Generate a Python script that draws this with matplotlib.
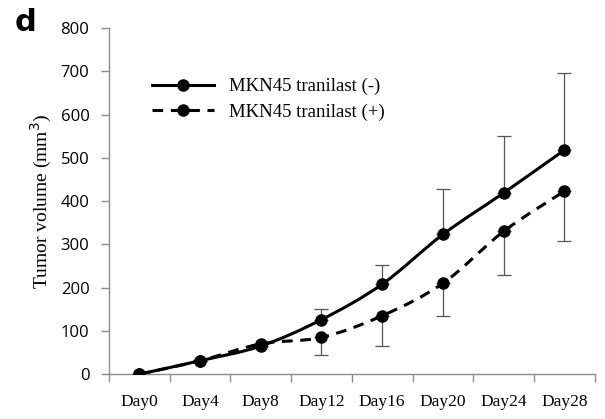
import matplotlib
matplotlib.use("Agg")
import matplotlib.pyplot as plt
from matplotlib.path import Path
from matplotlib.patches import PathPatch
from matplotlib.lines import Line2D
import numpy as np

days = ["Day0", "Day4", "Day8", "Day12", "Day16", "Day20", "Day24", "Day28"]
minus_vals = [0, 31, 65, 126, 208, 323, 419, 518]
minus_err_up = [0, 0, 0, 24, 44, 105, 131, 177]
plus_vals = [0, 31, 70, 85, 135, 210, 330, 423]
plus_err_down = [0, 0, 0, 40, 70, 75, 100, 116]
yticks = [0, 100, 200, 300, 400, 500, 600, 700, 800]

fig = plt.figure(figsize=(6.05, 4.19), dpi=100)
ax = fig.add_axes([0.180, 0.107, 0.803, 0.826])
x = np.arange(len(days))
grey = "#8c8c8c"


def smooth_path(xs, ys):
    # Excel-like smoothed line: cubic Bezier through the points
    xs = np.asarray(xs, float); ys = np.asarray(ys, float)
    n = len(xs)
    verts = [(xs[0], ys[0])]
    codes = [Path.MOVETO]
    for i in range(n - 1):
        p0 = (xs[max(i - 1, 0)], ys[max(i - 1, 0)])
        p1 = (xs[i], ys[i])
        p2 = (xs[i + 1], ys[i + 1])
        p3 = (xs[min(i + 2, n - 1)], ys[min(i + 2, n - 1)])
        c1 = (p1[0] + (p2[0] - p0[0]) / 6, p1[1] + (p2[1] - p0[1]) / 6)
        c2 = (p2[0] - (p3[0] - p1[0]) / 6, p2[1] - (p3[1] - p1[1]) / 6)
        verts += [c1, c2, p2]
        codes += [Path.CURVE4] * 3
    return Path(verts, codes)


ax.errorbar(x, minus_vals, yerr=[np.zeros(len(x)), minus_err_up], fmt="none",
            ecolor="#555555", elinewidth=0.9, capsize=5, capthick=0.9, zorder=2)
ax.errorbar(x, plus_vals, yerr=[plus_err_down, np.zeros(len(x))], fmt="none",
            ecolor="#555555", elinewidth=0.9, capsize=5, capthick=0.9, zorder=2)

dash = (0, (3.5, 2.5))
ax.add_patch(PathPatch(smooth_path(x, plus_vals), fill=False, edgecolor="black",
                       lw=2.2, ls=dash, zorder=3))
ax.add_patch(PathPatch(smooth_path(x, minus_vals), fill=False, edgecolor="black",
                       lw=2.2, ls="-", zorder=4))
ax.plot(x, plus_vals, ls="none", marker="o", ms=8, color="black", zorder=5)
ax.plot(x, minus_vals, ls="none", marker="o", ms=8, color="black", zorder=5)

ax.set_xlim(-0.5, len(days) - 0.5)
ax.set_ylim(0, 800)
ax.set_yticks(yticks)
ax.set_yticklabels([str(v) for v in yticks], fontfamily="Open Sans", fontsize=12)
ax.set_xticks(x)
ax.set_xticklabels(days, fontfamily="Liberation Serif", fontsize=12.5)
ax.tick_params(axis="x", length=0, pad=14)
ax.set_xticks(np.arange(-0.5, len(days)), minor=True)
ax.tick_params(axis="x", which="minor", length=6, color=grey, width=1)
ax.tick_params(axis="y", length=6, color=grey, width=1, pad=8)

for s in ["top", "right"]:
    ax.spines[s].set_visible(False)
for s in ["left", "bottom"]:
    ax.spines[s].set_color(grey)
    ax.spines[s].set_linewidth(1)

ax.set_ylabel("Tumor volume (mm$^3$)", fontfamily="Liberation Serif", fontsize=14)
ax.yaxis.set_label_coords(-0.113, 0.5)

handles = [Line2D([], [], color="black", lw=2.2, ls="-", marker="o", ms=8),
           Line2D([], [], color="black", lw=2.2, ls=dash, marker="o", ms=8)]
labels = ["MKN45 tranilast (-)", "MKN45 tranilast (+)"]
ax.legend(handles, labels, loc="upper left", bbox_to_anchor=(0.055, 0.905), frameon=False,
          prop={"family": "Liberation Serif", "size": 13.5}, handlelength=3.3,
          labelspacing=0.45, handletextpad=0.8)

fig.text(0.025, 0.925, "d", fontsize=22, fontweight="bold", fontfamily="DejaVu Sans")

fig.savefig("out.png", dpi=100)
